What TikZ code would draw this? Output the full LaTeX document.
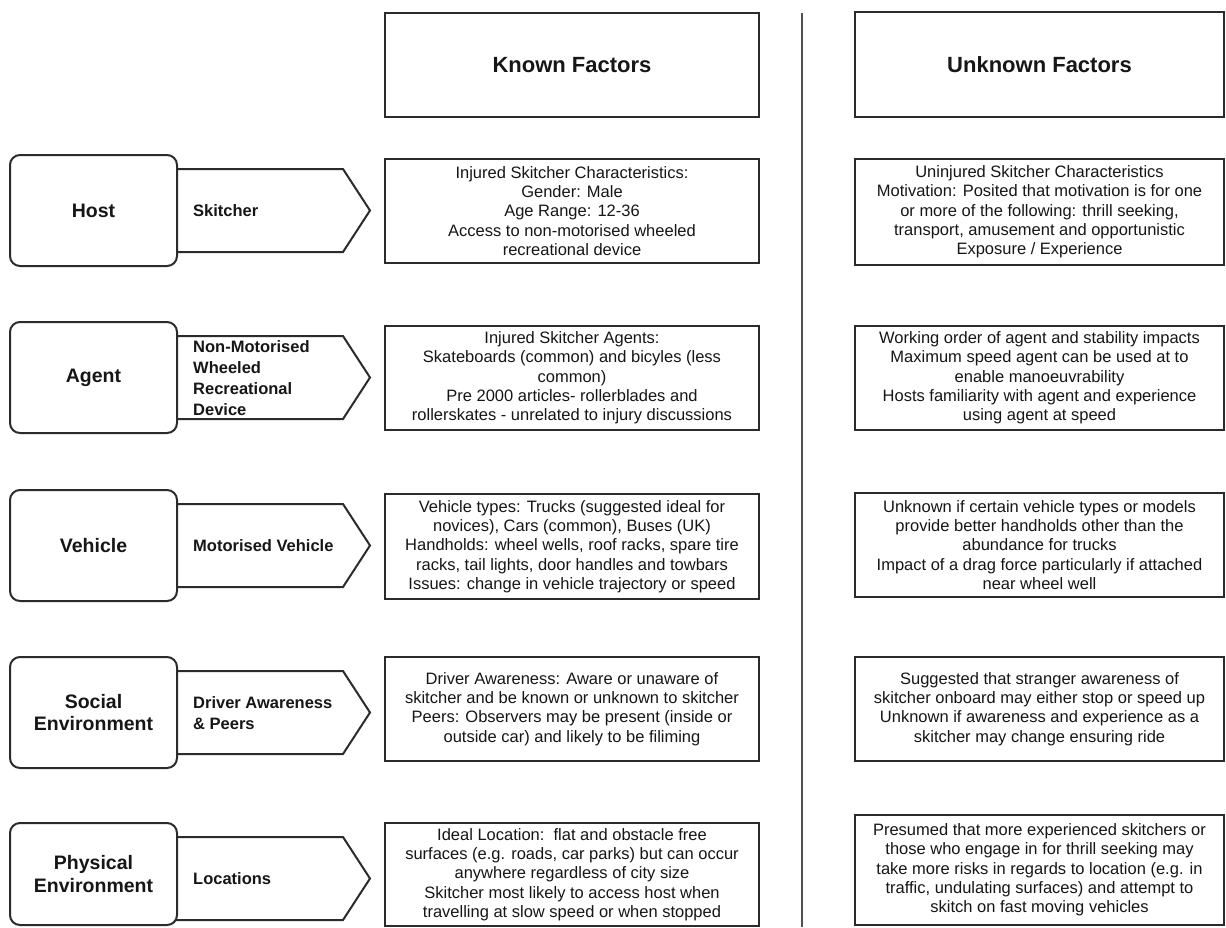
\documentclass[tikz,border=0pt]{standalone}
\usepackage{fontspec}
\setmainfont{Liberation Sans}
\definecolor{linec}{HTML}{2B2B2B}
\definecolor{textc}{HTML}{161616}
\definecolor{vlinec}{HTML}{505050}
\begin{document}
\begin{tikzpicture}[x=1pt,y=-1pt,
  every node/.style={text=textc},
  hdrbox/.style={draw=linec, line width=2pt, fill=white, inner sep=0pt,
    font=\bfseries\fontsize{22}{26}\selectfont, minimum width=#1},
  infobox/.style={draw=linec, line width=2pt, fill=white, inner sep=0pt, align=center,
    font=\fontsize{16.5}{19.3}\selectfont, minimum width=#1},
  catbox/.style={draw=linec, line width=2pt, fill=white, rounded corners=10pt, inner sep=0pt,
    align=center, minimum width=167pt, font=\bfseries\fontsize{19.5}{22.5}\selectfont},
  arrowlbl/.style={anchor=west, inner sep=0pt, align=left,
    font=\bfseries\fontsize{16.5}{21}\selectfont},
  penta/.style={draw=linec, line width=2pt, fill=white, line join=miter},
  divider/.style={draw=vlinec, line width=2.5pt}
]
\useasboundingbox (0,0) rectangle (1226,927);

% divider
\coordinate (vt) at (802,13);
\coordinate (vb) at (802,927);
\draw[divider] (vt) -- (vb);

% headers
\node[hdrbox=374pt, minimum height=104pt] (known) at (572,65) {Known Factors};
\node[hdrbox=369pt, minimum height=105pt] (unknown) at (1039.5,64.5) {Unknown Factors};

% pentagons (drawn before category boxes)
\foreach \t in {155,322,490,657,823}{
  \draw[penta] (170,\t+14) -- (343,\t+14) -- (370,\t+55.5) -- (343,\t+97) -- (170,\t+97) -- cycle;
}

% category boxes
\node[catbox, minimum height=111pt] (host) at (93.5,210.5) {Host};
\node[catbox, minimum height=111pt] (agent) at (93.5,377.5) {Agent};
\node[catbox, minimum height=111pt] (vehicle) at (93.5,545.5) {Vehicle};
\node[catbox, minimum height=111pt] (social) at (93.5,712.5) {Social\\Environment};
\node[catbox, minimum height=102pt] (physical) at (93.5,874) {Physical\\Environment};

% arrow labels
\node[arrowlbl] (l1) at (193,211) {Skitcher};
\node[arrowlbl] (l2) at (193,378.5) {Non-Motorised\\Wheeled\\Recreational\\Device};
\node[arrowlbl] (l3) at (193,546) {Motorised Vehicle};
\node[arrowlbl] (l4) at (193,713.5) {Driver Awareness\\\& Peers};
\node[arrowlbl] (l5) at (193,879) {Locations};

% known factor boxes
\node[infobox=374pt, minimum height=104pt] (k1) at (572,211) {Injured Skitcher Characteristics:\\Gender: Male\\Age Range: 12-36\\Access to non-motorised wheeled\\recreational device};
\node[infobox=374pt, minimum height=104pt] (k2) at (572,378) {Injured Skitcher Agents:\\Skateboards (common) and bicyles (less\\common)\\Pre 2000 articles- rollerblades and\\rollerskates - unrelated to injury discussions};
\node[infobox=374pt, minimum height=105pt] (k3) at (572,546.5) {Vehicle types: Trucks (suggested ideal for\\novices), Cars (common), Buses (UK)\\Handholds: wheel wells, roof racks, spare tire\\racks, tail lights, door handles and towbars\\Issues: change in vehicle trajectory or speed};
\node[infobox=374pt, minimum height=104pt] (k4) at (572,709) {Driver Awareness: Aware or unaware of\\skitcher and be known or unknown to skitcher\\Peers: Observers may be present (inside or\\outside car) and likely to be filiming};
\node[infobox=374pt, minimum height=103pt] (k5) at (572,874.5) {Ideal Location:\ \ flat and obstacle free\\surfaces (e.g. roads, car parks) but can occur\\anywhere regardless of city size\\Skitcher most likely to access host when\\travelling at slow speed or when stopped};

% unknown factor boxes
\node[infobox=369pt, minimum height=106pt] (u1) at (1039.5,212) {Uninjured Skitcher Characteristics\\Motivation: Posited that motivation is for one\\or more of the following: thrill seeking,\\transport, amusement and opportunistic\\Exposure / Experience};
\node[infobox=369pt, minimum height=104pt] (u2) at (1039.5,378) {Working order of agent and stability impacts\\Maximum speed agent can be used at to\\enable manoeuvrability\\Hosts familiarity with agent and experience\\using agent at speed};
\node[infobox=369pt, minimum height=104pt] (u3) at (1039.5,545) {Unknown if certain vehicle types or models\\provide better handholds other than the\\abundance for trucks\\Impact of a drag force particularly if attached\\near wheel well};
\node[infobox=369pt, minimum height=104pt] (u4) at (1039.5,709) {Suggested that stranger awareness of\\skitcher onboard may either stop or speed up\\Unknown if awareness and experience as a\\skitcher may change ensuring ride};
\node[infobox=369pt, minimum height=110pt] (u5) at (1039.5,870) {Presumed that more experienced skitchers or\\those who engage in for thrill seeking may\\take more risks in regards to location (e.g. in\\traffic, undulating surfaces) and attempt to\\skitch on fast moving vehicles};
\end{tikzpicture}
\end{document}
